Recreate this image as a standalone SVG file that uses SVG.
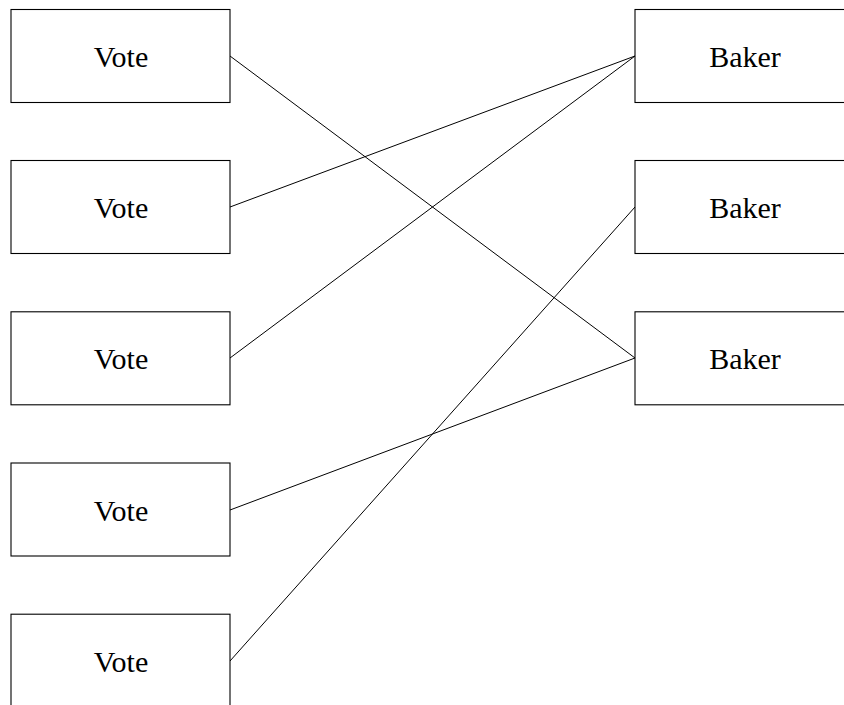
<svg xmlns="http://www.w3.org/2000/svg" width="844" height="705" viewBox="0 0 844 705">
<style>
.box{fill:#fff;stroke:#000;stroke-width:1.1}
.lbl{font-family:"Liberation Serif","Times New Roman",serif;font-size:30px;fill:#000;text-anchor:middle}
.edge{stroke:#000;stroke-width:1;fill:none}
</style>
<rect width="844" height="705" fill="#fff"/>
<g id="connectors">
<line class="edge" x1="230" y1="56" x2="635" y2="358"/>
<line class="edge" x1="230" y1="207" x2="635" y2="56"/>
<line class="edge" x1="230" y1="358" x2="635" y2="56"/>
<line class="edge" x1="230" y1="510" x2="635" y2="358"/>
<line class="edge" x1="230" y1="661" x2="635" y2="207"/>
</g>
<g id="vote1"><rect class="box" x="11" y="9.5" width="219" height="93"/><text class="lbl" x="121" y="66.5">Vote</text></g>
<g id="vote2"><rect class="box" x="11" y="160.5" width="219" height="93"/><text class="lbl" x="121" y="217.5">Vote</text></g>
<g id="vote3"><rect class="box" x="11" y="311.8" width="219" height="93"/><text class="lbl" x="121" y="369">Vote</text></g>
<g id="vote4"><rect class="box" x="11" y="463" width="219" height="93"/><text class="lbl" x="121" y="520.5">Vote</text></g>
<g id="vote5"><rect class="box" x="11" y="614.2" width="219" height="93"/><text class="lbl" x="121" y="671.5">Vote</text></g>
<g id="baker1"><rect class="box" x="635" y="9.5" width="219" height="93"/><text class="lbl" x="745" y="66.5">Baker</text></g>
<g id="baker2"><rect class="box" x="635" y="160.5" width="219" height="93"/><text class="lbl" x="745" y="217.5">Baker</text></g>
<g id="baker3"><rect class="box" x="635" y="311.8" width="219" height="93"/><text class="lbl" x="745" y="369">Baker</text></g>
</svg>
